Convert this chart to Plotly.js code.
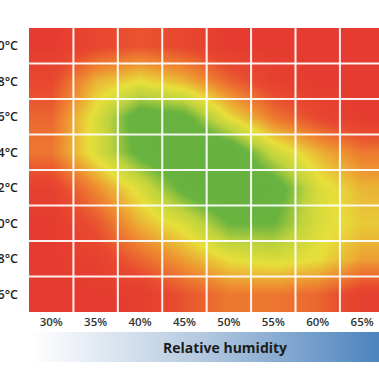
<!DOCTYPE html>
<html>
<head>
<meta charset="utf-8">
<script src="https://cdn.plot.ly/plotly-3.0.1.min.js"></script>
<style>
html,body{margin:0;padding:0;background:#fff;overflow:hidden;}
#chart{width:379px;height:378px;}
</style>
</head>
<body>
<div id="chart"></div>
<script>
// Categories
const humidity = ['30%','35%','40%','45%','50%','55%','60%','65%'];
const temperatures = ['16°C','18°C','20°C','22°C','24°C','26°C','28°C','30°C'];

// Comfort score per cell (0 = red / uncomfortable, 0.5 = yellow, 1 = green / comfortable)
// one array per temperature row, columns follow `humidity`
const row16 = [0.00, 0.00, 0.02, 0.15, 0.25, 0.25, 0.20, 0.05];
const row18 = [0.00, 0.05, 0.20, 0.35, 0.50, 0.55, 0.50, 0.35];
const row20 = [0.00, 0.15, 0.40, 0.55, 0.80, 0.80, 0.55, 0.45];
const row22 = [0.05, 0.30, 0.55, 0.85, 1.00, 0.90, 0.55, 0.40];
const row24 = [0.25, 0.55, 0.85, 1.00, 0.95, 0.60, 0.40, 0.25];
const row26 = [0.20, 0.55, 0.90, 0.85, 0.50, 0.25, 0.10, 0.00];
const row28 = [0.10, 0.40, 0.50, 0.40, 0.20, 0.05, 0.00, 0.00];
const row30 = [0.00, 0.10, 0.15, 0.10, 0.00, 0.00, 0.00, 0.00];

const axisTitle = 'Relative humidity';

const zRows = [row16, row18, row20, row22, row24, row26, row28, row30];
const xIdx = humidity.map((_, i) => i);
const yIdx = temperatures.map((_, i) => i);

const comfortScale = [
  [0.00, '#e53b30'],
  [0.12, '#e84a2f'],
  [0.30, '#ee8a30'],
  [0.50, '#e7df3a'],
  [0.65, '#bcd23c'],
  [0.80, '#69b33f'],
  [1.00, '#66b23f']
];

const traces = [
  {
    type: 'heatmap',
    x: xIdx,
    y: yIdx,
    z: zRows,
    zmin: 0,
    zmax: 1,
    zsmooth: 'best',
    colorscale: comfortScale,
    showscale: false,
    hoverinfo: 'skip'
  },
  {
    type: 'heatmap',
    x: [0, 1],
    y: [0],
    z: [[0, 1]],
    zmin: 0,
    zmax: 1,
    zsmooth: 'best',
    xaxis: 'x2',
    yaxis: 'y2',
    colorscale: [[0, '#ffffff'], [0.08, '#f4f7fb'], [0.5, '#b2c8df'], [1, '#4c84be']],
    showscale: false,
    hoverinfo: 'skip'
  }
];

const shapes = [];
for (let i = 1; i < humidity.length; i++) {
  shapes.push({type: 'line', xref: 'x', yref: 'y', x0: i - 0.5, x1: i - 0.5, y0: -0.5, y1: temperatures.length - 0.5,
    line: {color: 'rgba(255,255,255,0.92)', width: 2}});
}
for (let j = 1; j < temperatures.length; j++) {
  shapes.push({type: 'line', xref: 'x', yref: 'y', x0: -0.5, x1: humidity.length + 0.5, y0: j - 0.5, y1: j - 0.5,
    line: {color: 'rgba(255,255,255,0.92)', width: 2}});
}

const layout = {
  width: 379,
  height: 378,
  margin: {l: 29, r: 0, t: 28, b: 16},
  paper_bgcolor: '#ffffff',
  plot_bgcolor: '#ffffff',
  showlegend: false,
  xaxis: {
    domain: [0, 1],
    range: [-0.5, 7.38],
    tickvals: xIdx,
    ticktext: humidity,
    showgrid: false,
    zeroline: false,
    showline: false,
    ticks: '',
    ticklabelstandoff: 1,
    tickfont: {family: 'Open Sans, sans-serif', size: 11.5, color: '#333333', weight: 600},
    anchor: 'y',
    fixedrange: true
  },
  yaxis: {
    domain: [0.1497, 1],
    range: [-0.5, 7.5],
    tickvals: yIdx,
    ticktext: temperatures,
    showgrid: false,
    zeroline: false,
    showline: false,
    ticks: '',
    ticklabelstandoff: 10,
    tickfont: {family: 'Open Sans, sans-serif', size: 12.5, color: '#1e1e1e', weight: 600},
    fixedrange: true
  },
  xaxis2: {
    domain: [0, 1],
    range: [0, 1],
    anchor: 'y2',
    showticklabels: false,
    showgrid: false,
    zeroline: false,
    ticks: '',
    fixedrange: true
  },
  yaxis2: {
    domain: [0, 0.0898],
    range: [-0.5, 0.5],
    anchor: 'x2',
    showticklabels: false,
    showgrid: false,
    zeroline: false,
    ticks: '',
    fixedrange: true
  },
  shapes: shapes,
  annotations: [{
    text: axisTitle,
    xref: 'paper',
    yref: 'paper',
    x: 0.5586,
    y: 0.0449,
    xanchor: 'center',
    yanchor: 'middle',
    showarrow: false,
    font: {family: 'Open Sans, sans-serif', size: 14, color: '#1c1c1c', weight: 700}
  }]
};

Plotly.newPlot('chart', traces, layout, {staticPlot: true, displayModeBar: false});
</script>
</body>
</html>
